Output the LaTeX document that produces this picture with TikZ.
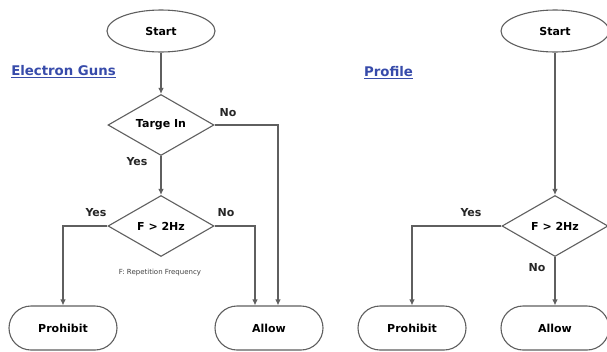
\documentclass[tikz,border=0pt]{standalone}
\usepackage{fontspec}
\setmainfont{DejaVu Sans}
\usetikzlibrary{shapes.geometric,arrows.meta}
\definecolor{lineg}{RGB}{95,95,95}
\definecolor{titleblue}{RGB}{55,75,170}
\tikzset{
  conn/.style={draw=lineg,line width=1.1pt},
  arr/.style={conn,-{Latex[length=6pt,width=5.5pt]}},
  startbox/.style={ellipse,draw=lineg,line width=1.1pt,minimum width=108pt,minimum height=42pt,inner sep=0pt,font=\bfseries\fontsize{11}{13}\selectfont},
  decbox/.style={diamond,draw=lineg,line width=1.1pt,minimum width=106pt,minimum height=61pt,inner sep=0pt,font=\bfseries\fontsize{11}{13}\selectfont},
  endbox/.style={rectangle,rounded corners=22pt,draw=lineg,line width=1.1pt,minimum width=108pt,minimum height=44pt,inner sep=0pt,font=\bfseries\fontsize{11}{13}\selectfont},
  lbl/.style={font=\bfseries\fontsize{11}{13}\selectfont,text=black!85,inner sep=0pt},
  title/.style={font=\bfseries\fontsize{13.3}{15}\selectfont,text=titleblue,inner sep=0pt},
}
\begin{document}
\begin{tikzpicture}[x=1pt,y=-1pt]
\useasboundingbox (0,0) rectangle (607,351);
\clip (0,0) rectangle (607,351);
\fill[white] (0,0) rectangle (607,351);
% left chart
\node[startbox] (start1) at (161,31) {Start};
\node[decbox] (targe) at (161,125) {Targe In};
\node[decbox] (f1) at (161,226) {F > 2Hz};
\node[endbox] (prohibit1) at (63,328) {Prohibit};
\node[endbox] (allow1) at (269,328) {Allow};
\node[title] (eg) at (63.5,72) {\underline{Electron Guns}};
\node[font=\fontsize{7}{8}\selectfont,text=black!75,inner sep=0pt] (fnote) at (160,273) {F: Repetition Frequency};
\node[lbl] (no1) at (228,113) {No};
\node[lbl] (yes1) at (137,162) {Yes};
\node[lbl] (yes2) at (96,213) {Yes};
\node[lbl] (no2) at (226,213) {No};
\draw[arr] (start1.south) -- (targe.north);
\draw[arr] (targe.south) -- (f1.north);
\draw[arr] (targe.east) -| ([xshift=9pt]allow1.north);
\draw[arr] (f1.west) -| (prohibit1.north);
\draw[arr] (f1.east) -| ([xshift=-14pt]allow1.north);
% right chart
\node[startbox] (start2) at (555,31) {Start};
\node[decbox] (f2) at (555,226) {F > 2Hz};
\node[endbox] (prohibit2) at (412,328) {Prohibit};
\node[endbox] (allow2) at (555,328) {Allow};
\node[title] (pf) at (388.5,73) {\underline{Profile}};
\node[lbl] (yes3) at (471,213) {Yes};
\node[lbl] (no3) at (537,268) {No};
\draw[arr] (start2.south) -- (f2.north);
\draw[arr] (f2.west) -| (prohibit2.north);
\draw[arr] (f2.south) -- (allow2.north);
\end{tikzpicture}
\end{document}
